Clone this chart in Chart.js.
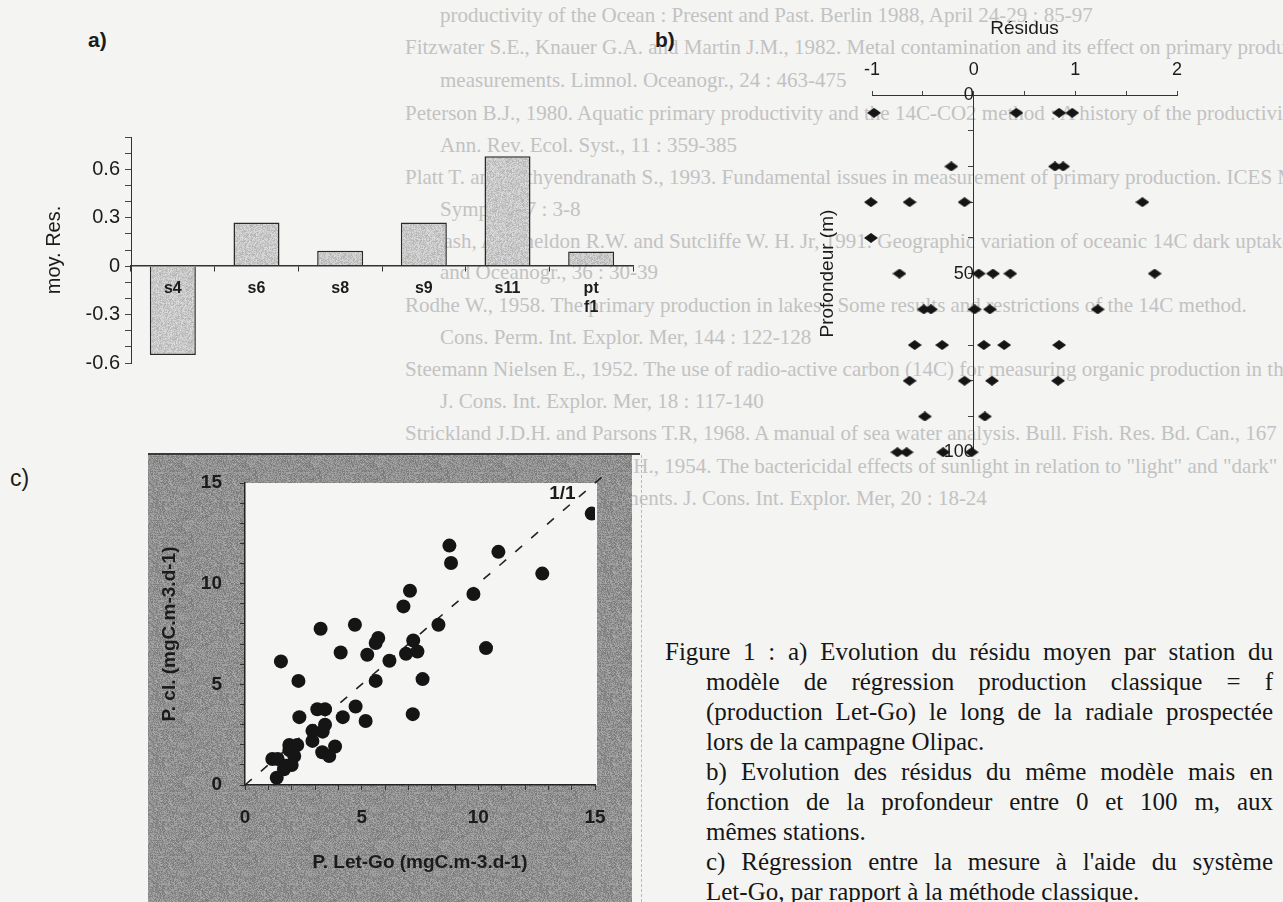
<!DOCTYPE html>
<html lang="fr">
<head>
<meta charset="UTF-8">
<title>Figure 1 - Résidus Let-Go / classique</title>
<script src="https://cdn.jsdelivr.net/npm/chart.js"></script>
<style>
  body { margin: 0; width: 1283px; height: 902px; background: #f4f4f2; position: relative; overflow: hidden;
         font-family: "Liberation Sans", Arial, sans-serif; color: #1b1b1b; }
  .fond { position: absolute; font-family: "Liberation Serif", "Times New Roman", serif; font-size: 21px;
          color: #c2c2c2; white-space: nowrap; line-height: 24px; }
  .lettre { position: absolute; font-size: 21px; }
  canvas { position: absolute; }
  .leg { position: absolute; font-family: "Liberation Serif", "Times New Roman", serif; font-size: 25px;
         line-height: 30px; height: 30px; white-space: nowrap; color: #161616; }
  .just { text-align: justify; text-align-last: justify; white-space: normal; }
</style>
</head>
<body>
  <!-- texte de la page precedente vu par transparence -->
  <div class="fond" style="left:440px;top:3px">productivity of the Ocean : Present and Past. Berlin 1988, April 24-29 : 85-97</div>
  <div class="fond" style="left:405px;top:35px">Fitzwater S.E., Knauer G.A. and Martin J.M., 1982. Metal contamination and its effect on primary production</div>
  <div class="fond" style="left:440px;top:68px">measurements. Limnol. Oceanogr., 24 : 463-475</div>
  <div class="fond" style="left:405px;top:101px">Peterson B.J., 1980. Aquatic primary productivity and the 14C-CO2 method : A history of the productivity problem</div>
  <div class="fond" style="left:440px;top:133px">Ann. Rev. Ecol. Syst., 11 : 359-385</div>
  <div class="fond" style="left:405px;top:165px">Platt T. and Sathyendranath S., 1993. Fundamental issues in measurement of primary production. ICES Mar. Sci.</div>
  <div class="fond" style="left:440px;top:197px">Symp., 197 : 3-8</div>
  <div class="fond" style="left:405px;top:229px">Prakash, A., Sheldon R.W. and Sutcliffe W. H. Jr, 1991. Geographic variation of oceanic 14C dark uptake. Limnol.</div>
  <div class="fond" style="left:440px;top:260px">and Oceanogr., 36 : 30-39</div>
  <div class="fond" style="left:405px;top:293px">Rodhe W., 1958. The primary production in lakes : Some results and restrictions of the 14C method.</div>
  <div class="fond" style="left:440px;top:325px">Cons. Perm. Int. Explor. Mer, 144 : 122-128</div>
  <div class="fond" style="left:405px;top:357px">Steemann Nielsen E., 1952. The use of radio-active carbon (14C) for measuring organic production in the sea.</div>
  <div class="fond" style="left:440px;top:389px">J. Cons. Int. Explor. Mer, 18 : 117-140</div>
  <div class="fond" style="left:405px;top:421px">Strickland J.D.H. and Parsons T.R, 1968. A manual of sea water analysis. Bull. Fish. Res. Bd. Can., 167 : 311</div>
  <div class="fond" style="left:405px;top:454px">Vaccaro R.H. and Ryther J.H., 1954. The bactericidal effects of sunlight in relation to "light" and "dark" bottle</div>
  <div class="fond" style="left:440px;top:486px">photosynthesis experiments. J. Cons. Int. Explor. Mer, 20 : 18-24</div>

  <div style="position:absolute;left:641px;top:455px;height:447px;border-left:1px dashed #b8b8b8"></div>

  <div class="lettre" style="left:88px;top:28px;font-weight:bold">a)</div>
  <div class="lettre" style="left:655px;top:28px;font-weight:bold">b)</div>
  <div class="lettre" style="left:10px;top:465px;font-size:23px">c)</div>

  <canvas id="cA" width="660" height="260" style="left:0;top:120px"></canvas>
  <canvas id="cB" width="400" height="470" style="left:820px;top:0"></canvas>
  <canvas id="cC" width="520" height="457" style="left:130px;top:445px"></canvas>

  <div class="leg just" style="left:665px;top:637px;width:608px">Figure 1 : a) Evolution du résidu moyen par station du</div>
  <div class="leg just" style="left:706px;top:667px;width:567px">modèle de régression production classique = f</div>
  <div class="leg just" style="left:706px;top:697px;width:567px">(production Let-Go) le long de la radiale prospectée</div>
  <div class="leg" style="left:706px;top:727px">lors de la campagne Olipac.</div>
  <div class="leg just" style="left:706px;top:757px;width:567px">b) Evolution des résidus du même modèle mais en</div>
  <div class="leg just" style="left:706px;top:787px;width:567px">fonction de la profondeur entre 0 et 100 m, aux</div>
  <div class="leg" style="left:706px;top:817px">mêmes stations.</div>
  <div class="leg just" style="left:706px;top:847px;width:567px">c) Régression entre la mesure à l'aide du système</div>
  <div class="leg" style="left:706px;top:877px">Let-Go, par rapport à la méthode classique.</div>

<script>
// a) residu moyen par station
const stations = ['s4', 's6', 's8', 's9', 's11', ['pt', 'f1']];
const moyRes = [-0.55, 0.27, 0.095, 0.27, 0.68, 0.09];

// b) residus selon la profondeur (m)
const profondeur = [5, 5, 5, 5, 5,
                    20, 20, 20,
                    30, 30, 30, 30,
                    40,
                    50, 50, 50, 50, 50,
                    60, 60, 60, 60, 60,
                    70, 70, 70, 70, 70,
                    80, 80, 80, 80,
                    90, 90,
                    100, 100, 100, 100];
const residus = [-0.98, 0.42, 0.84, 0.97, 2.06,
                 -0.22, 0.80, 0.88,
                 -1.01, -0.63, -0.09, 1.66,
                 -1.01,
                 -0.73, 0.05, 0.19, 0.36, 1.78,
                 -0.49, -0.42, 0.01, 0.16, 1.22,
                 -0.58, -0.31, 0.10, 0.30, 0.84,
                 -0.63, -0.09, 0.18, 0.83,
                 -0.48, 0.11,
                 -0.75, -0.66, -0.30, -0.02];

// c) production Let-Go vs classique (mgC.m-3.d-1)
const pLetGo = [14.86, 8.76, 8.83, 10.86, 12.74, 7.07, 9.79, 6.79, 4.71, 8.29,
                3.24, 5.71, 5.60, 7.21, 10.33, 4.10, 5.24, 6.90, 7.39, 6.19,
                1.54, 2.29, 5.60, 7.61, 4.74, 3.10, 3.43, 2.33, 4.19, 7.19,
                5.17, 3.43, 2.89, 3.33, 2.89, 1.90, 2.24, 3.31, 3.61, 3.86,
                1.90, 2.11, 1.17, 1.40, 1.76, 2.00, 1.67, 1.36];
const pClassique = [13.48, 11.89, 11.03, 11.58, 10.50, 9.65, 9.49, 8.87, 7.96, 7.96,
                    7.76, 7.30, 7.05, 7.18, 6.80, 6.58, 6.47, 6.52, 6.63, 6.17,
                    6.14, 5.17, 5.17, 5.26, 3.90, 3.76, 3.76, 3.37, 3.37, 3.52,
                    3.18, 2.99, 2.69, 2.65, 2.19, 1.99, 1.99, 1.63, 1.44, 1.91,
                    1.74, 1.44, 1.29, 1.29, 0.96, 0.99, 0.78, 0.36];
const droite11 = [0, 15.4];

Chart.defaults.font.family = '"Liberation Sans", Arial, sans-serif';
Chart.defaults.color = '#1b1b1b';
Chart.defaults.animation = false;
Chart.defaults.responsive = false;
Chart.defaults.devicePixelRatio = 1;
Chart.defaults.plugins.legend.display = false;
Chart.defaults.plugins.tooltip.enabled = false;

// texture grise du papier scanne (decor seulement)
function texture(base, ecart, graine) {
  const c = document.createElement('canvas');
  c.width = c.height = 64;
  const g = c.getContext('2d');
  let s = graine;
  for (let y = 0; y < 64; y++) {
    for (let x = 0; x < 64; x++) {
      s = (s * 16807) % 2147483647;
      const v = base + (s % (2 * ecart)) - ecart;
      g.fillStyle = `rgb(${v},${v},${v})`;
      g.fillRect(x, y, 1, 1);
    }
  }
  return g.createPattern(c, 'repeat');
}
const grisBarres = texture(200, 22, 12345);
const grisCadre = texture(145, 26, 777);

// losange aplati pour le panneau b
const losange = document.createElement('canvas');
losange.width = 14; losange.height = 10;
(function () {
  const g = losange.getContext('2d');
  g.fillStyle = '#151515';
  g.beginPath();
  g.moveTo(0, 5); g.lineTo(7, 0); g.lineTo(14, 5); g.lineTo(7, 10);
  g.closePath(); g.fill();
})();

// ---------- a) ----------
new Chart(document.getElementById('cA'), {
  type: 'bar',
  data: {
    labels: stations,
    datasets: [{
      data: moyRes,
      backgroundColor: grisBarres,
      borderColor: '#2a2a2a',
      borderWidth: 1.5,
      barPercentage: 0.55,
      categoryPercentage: 1
    }]
  },
  options: {
    layout: { padding: { left: 0, top: 13, right: 27, bottom: 17 } },
    scales: {
      x: {
        position: { y: 0 },
        afterFit: s => { s.height = 0; },
        grid: { drawOnChartArea: false, tickLength: 5, color: '#333', offset: true, z: 1 },
        border: { color: '#333', width: 1.5, z: 1 },
        // etiquettes dessinees par-dessus les barres (s4 est dans la barre)
        ticks: { z: 1, font: { size: 16, weight: 'bold' }, padding: 8, maxRotation: 0, autoSkip: false }
      },
      y: {
        min: -0.6, max: 0.8,
        afterFit: s => { s.width = 131; },
        ticks: {
          stepSize: 0.1, autoSkip: false, font: { size: 20 }, padding: 5,
          callback: v => { const k = Math.round(v * 10); return k % 3 === 0 ? String(k / 10) : ''; }
        },
        grid: { drawOnChartArea: false, tickLength: 6, color: '#444' },
        border: { color: '#333', width: 1 },
        title: { display: true, text: 'moy. Res.', font: { size: 20 }, padding: { top: 42, bottom: 0 } }
      }
    }
  }
});

// ---------- b) ----------
const titreVertical = {
  id: 'titreVertical',
  afterDraw(chart, args, opts) {
    const ctx = chart.ctx;
    const a = chart.chartArea;
    ctx.save();
    ctx.translate(opts.x, (a.top + a.bottom) / 2);
    ctx.rotate(-Math.PI / 2);
    ctx.font = '19px "Liberation Sans", Arial, sans-serif';
    ctx.fillStyle = '#1b1b1b';
    ctx.textAlign = 'center';
    ctx.textBaseline = 'middle';
    ctx.fillText(opts.texte, 0, 0);
    ctx.restore();
  }
};

new Chart(document.getElementById('cB'), {
  type: 'scatter',
  data: {
    datasets: [{
      data: residus.map((r, i) => ({ x: r, y: profondeur[i] })),
      pointStyle: losange,
      clip: false
    }]
  },
  options: {
    layout: { padding: { left: 52, right: 43, top: 0, bottom: 12 } },
    scales: {
      x: {
        type: 'linear', position: 'top', min: -1, max: 2,
        afterFit: s => { s.height = 95; },
        ticks: { stepSize: 0.5, autoSkip: false, maxRotation: 0, font: { size: 18 }, padding: 10,
                 callback: v => Number.isInteger(v) ? String(v) : '' },
        grid: { drawOnChartArea: false, tickLength: 4, color: '#444' },
        border: { color: '#333' },
        title: { display: true, text: 'Résidus', font: { size: 19 }, padding: { top: 17, bottom: 0 } }
      },
      y: {
        type: 'linear', position: { x: 0 }, min: 0, max: 100, reverse: true,
        afterFit: s => { s.width = 0; },
        ticks: { stepSize: 10, autoSkip: false, font: { size: 18 }, padding: 7,
                 callback: v => v % 50 === 0 ? String(v) : '' },
        grid: { drawOnChartArea: false, tickLength: 5, color: '#444' },
        border: { color: '#333' }
      }
    },
    plugins: { titreVertical: { texte: 'Profondeur (m)', x: 8 } }
  },
  plugins: [titreVertical]
});

// ---------- c) ----------
const cadreGris = {
  id: 'cadreGris',
  beforeDraw(chart) {
    const ctx = chart.ctx;
    const a = chart.chartArea;
    ctx.save();
    ctx.fillStyle = grisCadre;
    ctx.fillRect(18, 8, 484, 449);
    ctx.fillStyle = '#3a3a3a';
    ctx.fillRect(18, 8, 492, 2);
    ctx.fillStyle = '#f5f5f3';
    ctx.fillRect(a.left, a.top, a.right - a.left + 2, a.bottom - a.top);
    ctx.restore();
  }
};
const etiquette11 = {
  id: 'etiquette11',
  afterDatasetsDraw(chart, args, opts) {
    const ctx = chart.ctx;
    ctx.save();
    ctx.font = 'bold 19px "Liberation Sans", Arial, sans-serif';
    ctx.fillStyle = '#1b1b1b';
    ctx.textAlign = 'center';
    ctx.textBaseline = 'middle';
    ctx.fillText(opts.texte, chart.scales.x.getPixelForValue(opts.x), chart.scales.y.getPixelForValue(opts.y));
    ctx.restore();
  }
};

new Chart(document.getElementById('cC'), {
  type: 'scatter',
  data: {
    datasets: [
      {
        data: pLetGo.map((v, i) => ({ x: v, y: pClassique[i] })),
        pointStyle: 'circle', pointRadius: 7, backgroundColor: '#151515', borderWidth: 0
      },
      {
        data: droite11.map(v => ({ x: v, y: v })),
        showLine: true, pointRadius: 0, borderColor: '#222', borderWidth: 1.6,
        borderDash: [9, 12], clip: false
      }
    ]
  },
  options: {
    layout: { padding: { left: 0, right: 55, top: 38, bottom: 0 } },
    scales: {
      x: {
        type: 'linear', min: 0, max: 15,
        afterFit: s => { s.height = 117; },
        ticks: { stepSize: 1, autoSkip: false, maxRotation: 0, font: { size: 19, weight: 'bold' }, padding: 16,
                 callback: v => v % 5 === 0 ? String(v) : '' },
        grid: { drawOnChartArea: false, tickLength: 5, color: '#333' },
        border: { color: '#222', width: 1.5 },
        title: { display: true, text: 'P. Let-Go (mgC.m-3.d-1)', font: { size: 19, weight: 'bold' },
                 padding: { top: 0, bottom: 28 } }
      },
      y: {
        type: 'linear', min: 0, max: 15,
        afterFit: s => { s.width = 115; },
        ticks: { stepSize: 1, autoSkip: false, font: { size: 19, weight: 'bold' }, padding: 18,
                 callback: v => v % 5 === 0 ? String(v) : '' },
        grid: { drawOnChartArea: false, tickLength: 5, color: '#333' },
        border: { color: '#222', width: 1.5 },
        title: { display: true, text: 'P. cl. (mgC.m-3.d-1)', font: { size: 19, weight: 'bold' },
                 padding: { top: 28, bottom: 0 } }
      }
    },
    plugins: { etiquette11: { texte: '1/1', x: 13.6, y: 14.45 } }
  },
  plugins: [cadreGris, etiquette11]
});
</script>
</body>
</html>
